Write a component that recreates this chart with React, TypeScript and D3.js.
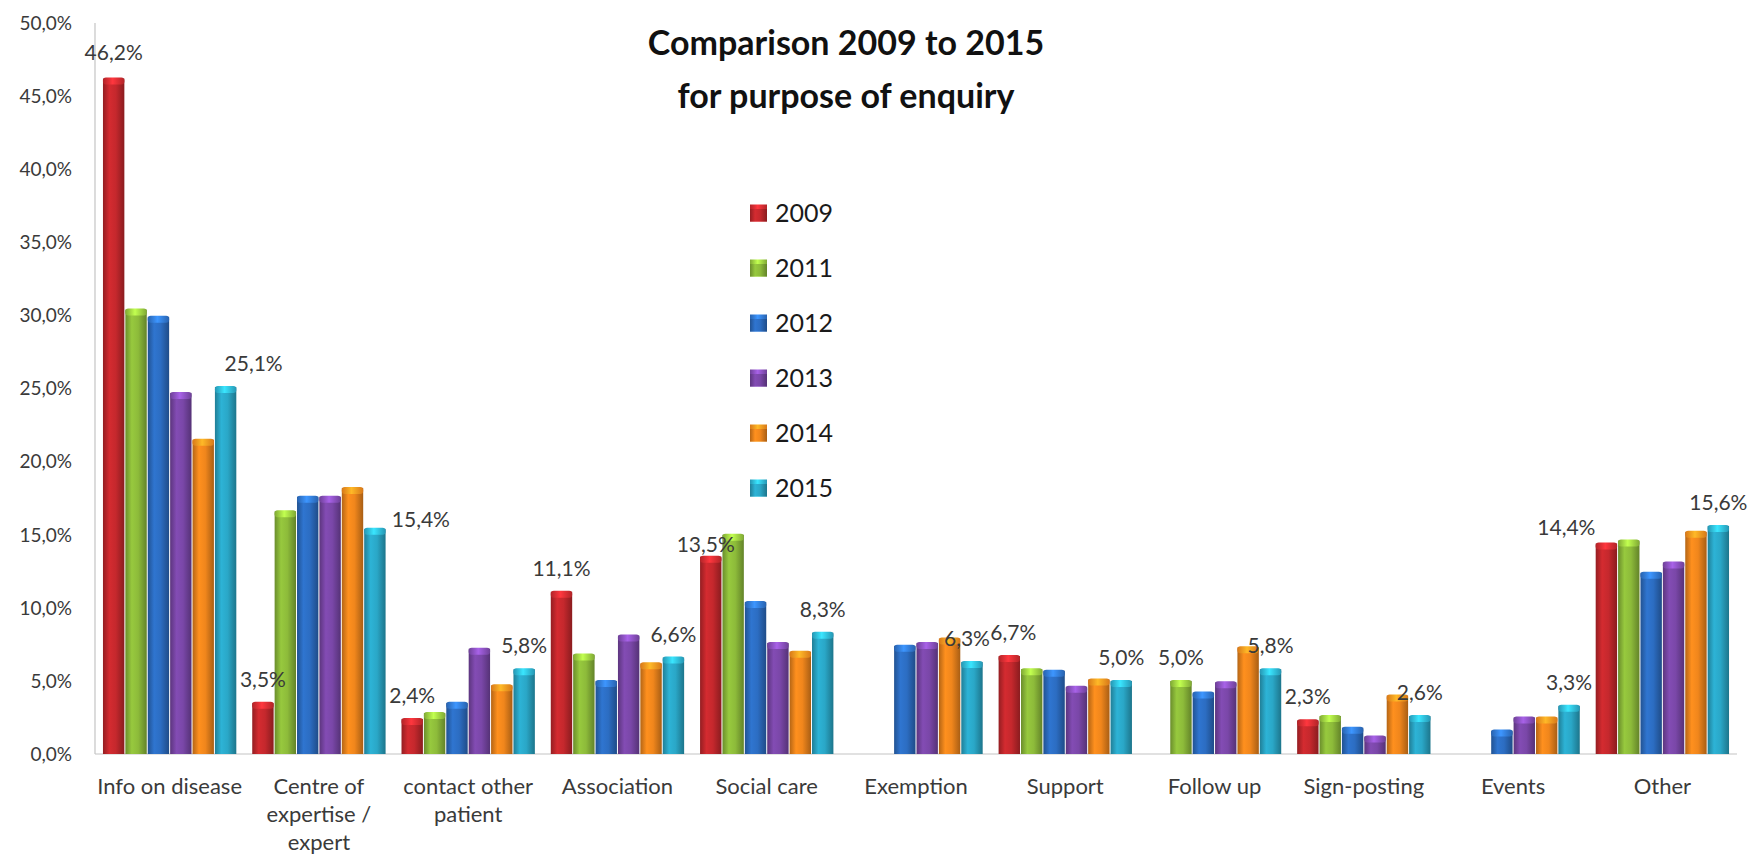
import React from "react";
import * as d3 from "d3";

const categories = [
  "Info on disease",
  "Centre of expertise / expert",
  "contact other patient",
  "Association",
  "Social care",
  "Exemption",
  "Support",
  "Follow up",
  "Sign-posting",
  "Events",
  "Other",
];
const categoryLines = [
  ["Info on disease"],
  ["Centre of", "expertise /", "expert"],
  ["contact other", "patient"],
  ["Association"],
  ["Social care"],
  ["Exemption"],
  ["Support"],
  ["Follow up"],
  ["Sign-posting"],
  ["Events"],
  ["Other"],
];
const years = ["2009", "2011", "2012", "2013", "2014", "2015"];

const v2009 = [46.2, 3.5, 2.4, 11.1, 13.5, null, 6.7, null, 2.3, null, 14.4];
const v2011 = [30.4, 16.6, 2.8, 6.8, 15.0, null, 5.8, 5.0, 2.6, null, 14.6];
const v2012 = [29.9, 17.6, 3.5, 5.0, 10.4, 7.4, 5.7, 4.2, 1.8, 1.6, 12.4];
const v2013 = [24.7, 17.6, 7.2, 8.1, 7.6, 7.6, 4.6, 4.9, 1.2, 2.5, 13.1];
const v2014 = [21.5, 18.2, 4.7, 6.2, 7.0, 7.9, 5.1, 7.3, 4.0, 2.5, 15.2];
const v2015 = [25.1, 15.4, 5.8, 6.6, 8.3, 6.3, 5.0, 5.8, 2.6, 3.3, 15.6];
const seriesValues = [v2009, v2011, v2012, v2013, v2014, v2015];

const yTicks = [0, 5, 10, 15, 20, 25, 30, 35, 40, 45, 50];

// [category index, series index] of points that carry a data label
const labelledPoints: [number, number][] = [
  [0, 0], [0, 5], [1, 0], [1, 5], [2, 0], [2, 5], [3, 0], [3, 5], [4, 0], [4, 5],
  [5, 5], [6, 0], [6, 5], [7, 1], [7, 5], [8, 0], [8, 5], [9, 5], [10, 0], [10, 5],
];
// small label nudges (dx, dy) like the original's manually moved labels
const labelNudges: Record<string, [number, number]> = {
  "0-0": [0, -3],
  "0-5": [28, 0],
  "1-5": [46, 14],
  "4-0": [-5, 11],
  "5-5": [-5, 0],
  "6-0": [4, 0],
  "10-0": [-40, 8],
};

const colors = ["#C5282D", "#8DBB3A", "#2C6DC2", "#7A47A8", "#F0861C", "#2AA7C7"];

const W = 1752;
const H = 857;
const FONT = "Lato, 'Open Sans', 'DejaVu Sans', sans-serif";
const TXT = "#3a3a3a";

const fmt = (v: number) => v.toFixed(1).replace(".", ",") + "%";

export default function App() {
  const x0 = d3
    .scaleBand<string>()
    .domain(categories)
    .range([95, 1737])
    .paddingInner(0.1)
    .paddingOuter(0.05);
  const x1 = d3.scaleBand<string>().domain(years).range([0, x0.bandwidth()]).padding(0);
  const y = d3.scaleLinear().domain([0, 50]).range([754, 23]);
  const bw = x1.bandwidth();

  return (
    <div style={{ position: "fixed", left: 0, top: 0 }}>
      <svg width={W} height={H} style={{ display: "block", background: "#fff" }}>
        <defs>
          {colors.map((c, i) => {
            const base = d3.color(c)!;
            return (
              <linearGradient key={i} id={`g${i}`} x1="0" x2="1" y1="0" y2="0">
                <stop offset="0" stopColor={base.darker(0.8).formatHex()} />
                <stop offset="0.3" stopColor={base.brighter(0.2).formatHex()} />
                <stop offset="0.6" stopColor={base.formatHex()} />
                <stop offset="1" stopColor={base.darker(1.0).formatHex()} />
              </linearGradient>
            );
          })}
          {colors.map((c, i) => {
            const base = d3.color(c)!;
            return (
              <linearGradient key={"c" + i} id={`cap${i}`} x1="0" x2="1" y1="0" y2="0">
                <stop offset="0" stopColor={base.darker(0.3).formatHex()} />
                <stop offset="0.45" stopColor={base.brighter(0.9).formatHex()} />
                <stop offset="1" stopColor={base.darker(0.3).formatHex()} />
              </linearGradient>
            );
          })}
        </defs>

        {/* axes */}
        <line x1={95} x2={95} y1={y(50)} y2={y(0)} stroke="#c4c4c4" strokeWidth={1.2} />
        <line x1={95} x2={1737} y1={y(0)} y2={y(0)} stroke="#c4c4c4" strokeWidth={1.2} />

        {yTicks.map((t) => (
          <text
            key={t}
            x={72}
            y={y(t)}
            dy="0.36em"
            textAnchor="end"
            fontFamily={FONT}
            fontSize={19}
            fill={TXT}
          >
            {fmt(t)}
          </text>
        ))}

        {/* bars */}
        {categories.map((cat, ci) => (
          <g key={cat} transform={`translate(${x0(cat)},0)`}>
            {years.map((yr, si) => {
              const v = seriesValues[si][ci];
              if (v == null) return null;
              const bx = x1(yr)!;
              const top = y(v);
              const h = y(0) - top;
              return (
                <g key={yr}>
                  <rect x={bx + 0.5} y={top} width={bw - 1} height={h} fill={`url(#g${si})`} />
                  <rect
                    x={bx + 0.5}
                    y={top - 1}
                    width={bw - 1}
                    height={Math.min(7, h + 1)}
                    rx={3}
                    fill={`url(#cap${si})`}
                  />
                </g>
              );
            })}
          </g>
        ))}

        {/* data labels */}
        {labelledPoints.map(([ci, si]) => {
          const v = seriesValues[si][ci] as number;
          const nudge = labelNudges[`${ci}-${si}`] || [0, 0];
          const cx = x0(categories[ci])! + x1(years[si])! + bw / 2 + nudge[0];
          return (
            <text
              key={`${ci}-${si}`}
              x={cx}
              y={y(v) - 16 + nudge[1]}
              textAnchor="middle"
              fontFamily={FONT}
              fontSize={21}
              fill={TXT}
            >
              {fmt(v)}
            </text>
          );
        })}

        {/* category labels */}
        {categories.map((cat, ci) => (
          <text
            key={cat}
            x={x0(cat)! + x0.bandwidth() / 2}
            y={794}
            textAnchor="middle"
            fontFamily={FONT}
            fontSize={22}
            fill={TXT}
          >
            {categoryLines[ci].map((ln, li) => (
              <tspan key={li} x={x0(cat)! + x0.bandwidth() / 2} dy={li === 0 ? 0 : 28}>
                {ln}
              </tspan>
            ))}
          </text>
        ))}

        {/* title */}
        <text
          x={846}
          y={55}
          textAnchor="middle"
          fontFamily={FONT}
          fontWeight="bold"
          fontSize={34}
          fill="#111"
        >
          Comparison 2009 to 2015
        </text>
        <text
          x={846}
          y={108}
          textAnchor="middle"
          fontFamily={FONT}
          fontWeight="bold"
          fontSize={34}
          fill="#111"
        >
          for purpose of enquiry
        </text>

        {/* legend */}
        {years.map((yr, i) => {
          const cy = 213 + i * 55;
          return (
            <g key={yr}>
              <rect x={750} y={cy - 8.5} width={17} height={17} fill={`url(#cap${i})`} />
              <rect x={750} y={cy - 4} width={17} height={12.5} fill={`url(#g${i})`} />
              <text
                x={775}
                y={cy}
                dy="0.36em"
                fontFamily={FONT}
                fontSize={25}
                fill="#1a1a1a"
              >
                {yr}
              </text>
            </g>
          );
        })}
      </svg>
    </div>
  );
}
